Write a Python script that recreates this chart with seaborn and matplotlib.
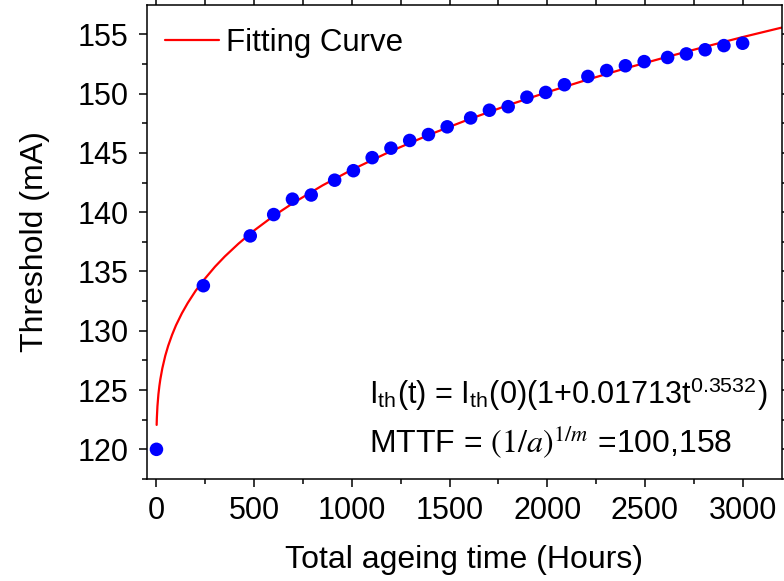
import matplotlib
matplotlib.use("Agg")
import matplotlib.pyplot as plt
import seaborn as sns

# measured threshold current vs. ageing time
hours = [0, 240, 480, 600, 696, 792, 912, 1008, 1104, 1200, 1296, 1392, 1488, 1608,
         1704, 1800, 1896, 1992, 2088, 2208, 2304, 2400, 2496, 2616, 2712, 2808,
         2904, 3000]
threshold = [120.0, 133.8, 138.0, 139.8, 141.1, 141.45, 142.7, 143.5, 144.6, 145.4,
             146.05, 146.55, 147.2, 147.95, 148.6, 148.9, 149.7, 150.1, 150.75,
             151.45, 151.95, 152.35, 152.7, 153.05, 153.35, 153.7, 154.05, 154.25]

# fitting curve
fit_hours = [1, 2, 5, 10, 15, 20, 30, 45, 60, 80, 100, 130, 160, 200, 240, 300, 350,
             420, 500, 600, 700, 850, 1000, 1200, 1400, 1600, 1800, 2000, 2200, 2400,
             2600, 2800, 3000, 3200]
fit_threshold = [122.06, 122.63, 123.63, 124.64, 125.35, 125.92, 126.83, 127.89,
                 128.73, 129.66, 130.46, 131.47, 132.34, 133.36, 134.24, 135.41,
                 136.27, 137.35, 138.46, 139.69, 140.78, 142.26, 143.58, 145.15,
                 146.56, 147.84, 149.03, 150.12, 151.15, 152.13, 153.04, 153.92,
                 154.77, 155.57]

sns.set_style("ticks")
plt.rcParams['font.family'] = ['Liberation Sans', 'DejaVu Sans']
plt.rcParams['mathtext.fontset'] = 'stix'
plt.rcParams['text.color'] = 'black'
plt.rcParams['axes.labelcolor'] = 'black'

fig = plt.figure(figsize=(7.84, 5.81), dpi=100)
ax = fig.add_axes([0.1871, 0.1756, 0.81, 0.8163])

sns.lineplot(x=fit_hours, y=fit_threshold, color="#ff0000", linewidth=1.6,
             label="Fitting Curve", ax=ax, zorder=2)
sns.scatterplot(x=hours, y=threshold, color="#0000ff", s=95, edgecolor="none",
                ax=ax, zorder=3)

ax.set_xlim(-50, 3200)
ax.set_ylim(117.5, 157.5)
ax.set_xticks([0, 500, 1000, 1500, 2000, 2500, 3000])
ax.set_xticks(range(250, 3200, 500), minor=True)
ax.set_yticks([120, 125, 130, 135, 140, 145, 150, 155])
ax.set_yticks([117.5 + 5 * i for i in range(8)], minor=True)

for s in ax.spines.values():
    s.set_visible(True)
    s.set_linewidth(1.1)
    s.set_color("black")

ax.tick_params(which="major", direction="out", length=6, width=1.1, labelsize=22,
               top=True, right=True, colors="black")
ax.tick_params(which="minor", direction="out", length=3.5, width=1.1,
               top=True, right=True, colors="black")
ax.tick_params(axis="y", which="major", pad=7)
ax.tick_params(axis="x", which="major", pad=6)

ax.set_xlabel("Total ageing time (Hours)", fontsize=23, labelpad=14)
ax.set_ylabel("Threshold (mA)", fontsize=23, labelpad=20)

leg = ax.legend(loc="upper left", frameon=False, fontsize=22.5, handlelength=1.7,
                handletextpad=0.25, borderaxespad=0.2, bbox_to_anchor=(0.0, 0.99))

ax.text(0.35, 0.158, r'I$_\mathregular{th}$(t) = I$_\mathregular{th}$(0)(1+0.01713t$^\mathregular{0.3532}$)',
        transform=ax.transAxes, fontsize=22)
ax.text(0.35, 0.057, r'MTTF = $(1/a)^{1/m}$ =100,158',
        transform=ax.transAxes, fontsize=23)

fig.savefig("out.png", dpi=100)
